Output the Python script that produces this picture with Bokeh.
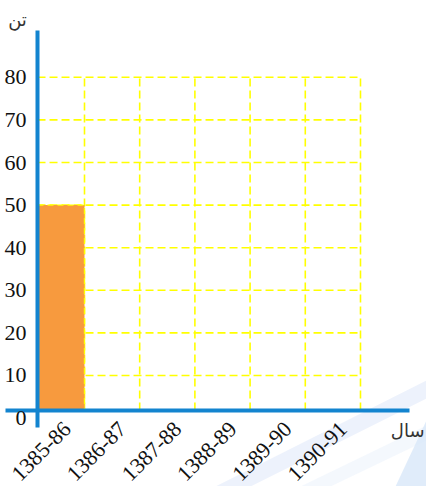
import math
from bokeh.plotting import figure
from bokeh.models import Range1d, FixedTicker, Label, PolyAnnotation
from bokeh.embed import file_html
from bokeh.resources import INLINE

categories = ["1385-86", "1386-87", "1387-88", "1388-89", "1389-90", "1390-91"]
values = [50, None, None, None, None, None]
y_ticks = [0, 10, 20, 30, 40, 50, 60, 70, 80]
y_title = "تن"
x_title = "سال"

W, H = 426, 486
X_START, X_END = -0.5217, 7.196
Y_START, Y_END = -16.06, 98.03
AXIS_X = 0.149   # where the vertical axis crosses
BASE = 1.8       # where the horizontal axis line is drawn
LABEL_SHIFT = 0.19

BLUE = "#1384cf"
ORANGE = "#f79a3e"
YELLOW = "#ffff00"
SERIF = "Liberation Serif"

p = figure(width=W, height=H, output_backend="svg", toolbar_location=None,
           x_range=Range1d(X_START, X_END), y_range=Range1d(Y_START, Y_END),
           min_border_left=0, min_border_right=0, min_border_top=0, min_border_bottom=0,
           background_fill_color="white", border_fill_color="white")
p.outline_line_color = None
p.xgrid.visible = False
p.ygrid.visible = False


def dx(px):
    return X_START + px / W * (X_END - X_START)


def dy(py):
    return Y_END - py / H * (Y_END - Y_START)


# faint background decoration (bottom right), drawn beneath everything
for xs_px, ys_px, col in [
    ([215, 250, 426, 426], [486, 486, 398, 380], "#e8effb"),
    ([300, 330, 426, 426], [486, 486, 440, 425], "#f1f6fd"),
    ([395, 426, 426], [486, 486, 420], "#d8e7f9"),
]:
    p.add_layout(PolyAnnotation(xs=[dx(v) for v in xs_px], ys=[dy(v) for v in ys_px],
                                fill_color=col, fill_alpha=0.8, line_color=None,
                                level="underlay"))

n = len(categories)
top = max(y_ticks)

# dashed yellow grid
hy = [t for t in y_ticks if t > 0]
p.segment(x0=[AXIS_X] * len(hy), x1=[n] * len(hy), y0=hy, y1=hy,
          line_color=YELLOW, line_width=1.6, line_dash="8 4")
vx = list(range(1, n + 1))
p.segment(x0=vx, x1=vx, y0=[BASE] * n, y1=[top] * n,
          line_color=YELLOW, line_width=1.6, line_dash="8 4")

# bars
lefts, rights, tops = [], [], []
for i, v in enumerate(values):
    if v is None:
        continue
    lefts.append(max(i, AXIS_X))
    rights.append(i + 1)
    tops.append(v)
p.quad(left=lefts, right=rights, bottom=BASE, top=tops,
       fill_color=ORANGE, line_color=YELLOW, line_width=1.4, line_dash="6 4")

# axes
for ax in (p.xaxis, p.yaxis):
    ax.axis_line_color = BLUE
    ax.axis_line_width = 4
    ax.major_tick_line_color = None
    ax.minor_tick_line_color = None
    ax.major_tick_out = 0
    ax.major_tick_in = 0
    ax.major_label_text_font = SERIF
    ax.major_label_text_font_size = "22px"
    ax.major_label_text_color = "#111111"

p.yaxis.fixed_location = AXIS_X
p.yaxis.bounds = (-2.2, 91.0)
p.yaxis.ticker = FixedTicker(ticks=y_ticks)
p.yaxis.major_label_standoff = 11

p.xaxis.fixed_location = BASE
p.xaxis.bounds = (dx(5), dx(409))
label_pos = [i + 0.5 + LABEL_SHIFT for i in range(n)]
p.xaxis.ticker = FixedTicker(ticks=label_pos)
p.xaxis.major_label_overrides = {c: lab for c, lab in zip(label_pos, categories)}
p.xaxis.major_label_orientation = math.pi / 4
p.xaxis.major_label_standoff = 15

# titles
p.add_layout(Label(x=dx(17), y=dy(19), text=y_title, text_align="center",
                   text_baseline="middle", text_font="DejaVu Sans",
                   text_font_size="18px", text_color="#333333"))
p.add_layout(Label(x=dx(424), y=dy(430), text=x_title, text_align="right",
                   text_baseline="middle", text_font="DejaVu Sans",
                   text_font_size="18px", text_color="#333333"))

open("out.html", "w").write(file_html(p, INLINE))
